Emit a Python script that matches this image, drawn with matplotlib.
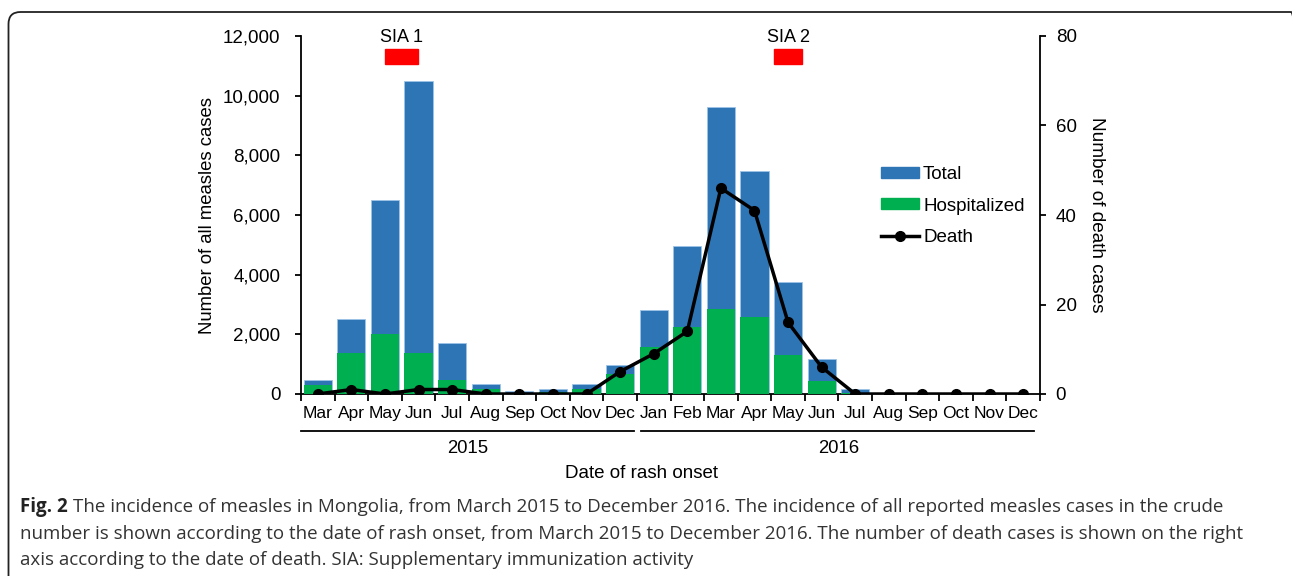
import matplotlib.pyplot as plt
from matplotlib.patches import FancyBboxPatch, Rectangle
from matplotlib.lines import Line2D

plt.rcParams['font.family'] = ['Liberation Sans', 'DejaVu Sans']

months = ['Mar', 'Apr', 'May', 'Jun', 'Jul', 'Aug', 'Sep', 'Oct', 'Nov', 'Dec',
          'Jan', 'Feb', 'Mar', 'Apr', 'May', 'Jun', 'Jul', 'Aug', 'Sep', 'Oct', 'Nov', 'Dec']
total = [470, 2500, 6500, 10500, 1710, 330, 100, 180, 320, 980,
         2820, 4970, 9630, 7470, 3750, 1180, 180, 0, 0, 0, 0, 0]
hospitalized = [290, 1380, 2000, 1380, 480, 170, 50, 80, 170, 680,
                1580, 2250, 2850, 2590, 1300, 420, 50, 0, 0, 0, 0, 0]
death = [0, 1, 0, 1, 1, 0, 0, 0, 0, 5,
         9, 14, 46, 41, 16, 6, 0, 0, 0, 0, 0, 0]
years = ['2015', '2016']
sia_labels = ['SIA 1', 'SIA 2']
sia_span = [(2.0, 2.98), (13.58, 14.42)]

blue = '#2E75B6'
green = '#00B050'
fs = 13.5
W, H = 1292, 576

fig = plt.figure(figsize=(12.92, 5.76), dpi=100)
ax = fig.add_axes([301/W, 1-394/H, (1040-301)/W, (394-36)/H])
x = list(range(len(months)))

ax.bar(x, total, width=0.84, color=blue, edgecolor='#9DC3E6', linewidth=0.6, label='Total', zorder=2)
ax.bar(x, hospitalized, width=0.84, color=green, label='Hospitalized', zorder=3)
ax.set_xlim(-0.5, 21.5)
ax.set_ylim(0, 12000)
ax.set_yticks(range(0, 12001, 2000))
ax.set_yticklabels([f'{v:,}' for v in range(0, 12001, 2000)], fontsize=fs)
ax.set_ylabel('Number of all measles cases', fontsize=13.3, labelpad=5)
ax.spines['top'].set_visible(False)
ax.spines['right'].set_visible(False)
ax.spines['left'].set_linewidth(1.3)
ax.spines['bottom'].set_linewidth(1.3)
ax.tick_params(axis='y', length=4.3, width=1.3, direction='out', pad=10.5)

# ticks between bars, labels at centers
ax.set_xticks([i - 0.5 for i in range(len(months) + 1)])
ax.set_xticklabels([])
ax.tick_params(axis='x', length=5, width=1.3, direction='out')
for i, m in enumerate(months):
    ax.text(i, -0.033, m, transform=ax.get_xaxis_transform(), ha='center', va='top', fontsize=12.5)

# year underlines
ax.plot([-0.5, 9.41], [-0.104, -0.104], transform=ax.get_xaxis_transform(), color='black', lw=1.3, clip_on=False)
ax.plot([9.62, 21.33], [-0.104, -0.104], transform=ax.get_xaxis_transform(), color='black', lw=1.3, clip_on=False)
ax.text(4.45, -0.128, years[0], transform=ax.get_xaxis_transform(), ha='center', va='top', fontsize=13.3)
ax.text(15.5, -0.128, years[1], transform=ax.get_xaxis_transform(), ha='center', va='top', fontsize=13.3)
ax.text(9.65, -0.197, 'Date of rash onset', transform=ax.get_xaxis_transform(), ha='center', va='top', fontsize=fs)

# SIA markers
for lab, (a, b) in zip(sia_labels, sia_span):
    ax.add_patch(Rectangle((a, 11070), b - a, 500, color='red', clip_on=False, zorder=4))
    ax.text((a + b) / 2, 11680, lab, ha='center', va='bottom', fontsize=13)

ax2 = ax.twinx()
ax2.plot(x, death, color='black', lw=2.5, marker='o', markersize=7, label='Death', zorder=5)
ax2.set_ylim(0, 80)
ax2.set_yticks([0, 20, 40, 60, 80])
ax2.tick_params(axis='y', length=4.3, width=1.3, labelsize=fs, pad=7)
ax2.spines['top'].set_visible(False)
ax2.spines['left'].set_visible(False)
ax2.spines['bottom'].set_visible(False)
ax2.spines['right'].set_linewidth(1.3)
ax2.set_ylabel('Number of death cases', fontsize=13.7, rotation=270, labelpad=8, va='bottom')

handles = [Rectangle((0, 0), 1, 1, color=blue), Rectangle((0, 0), 1, 1, color=green),
           Line2D([], [], color='black', lw=2.5, marker='o', markersize=7)]
ax2.legend(handles, ['Total', 'Hospitalized', 'Death'], loc='center left', bbox_to_anchor=(0.775, 0.525),
           frameon=False, fontsize=fs, handlelength=2.03, handleheight=0.53, labelspacing=0.75,
           handletextpad=0.2, borderaxespad=0)

# outer frame: right edge past the image so only the start of the corner shows
fig.patches.append(FancyBboxPatch((8.5/W, -0.05), (1303 - 8.5)/W, 1 - 12/H + 0.05,
                                  boxstyle=f'round,pad=0,rounding_size={12/W}',
                                  mutation_aspect=W/H,
                                  transform=fig.transFigure, fill=False, edgecolor='#222222', lw=1.3))

cap = ('The incidence of measles in Mongolia, from March 2015 to December 2016. The incidence of all reported measles cases in the crude',
       'number is shown according to the date of rash onset, from March 2015 to December 2016. The number of death cases is shown on the right',
       'axis according to the date of death. SIA: Supplementary immunization activity')
cfs = 13.5
t = fig.text(20/W, 1-507/H, 'Fig. 2', fontsize=cfs, fontweight='bold', family='Open Sans', va='center', color='#222222')
r = fig.canvas.get_renderer()
x1 = t.get_window_extent(r).x1
fig.text((x1 + 5)/W, 1-507/H, cap[0], fontsize=cfs, family='Open Sans', va='center', color='#333333')
fig.text(20/W, 1-534/H, cap[1], fontsize=cfs, family='Open Sans', va='center', color='#333333')
fig.text(20/W, 1-560/H, cap[2], fontsize=cfs, family='Open Sans', va='center', color='#333333')

fig.savefig('out.png', dpi=100)
